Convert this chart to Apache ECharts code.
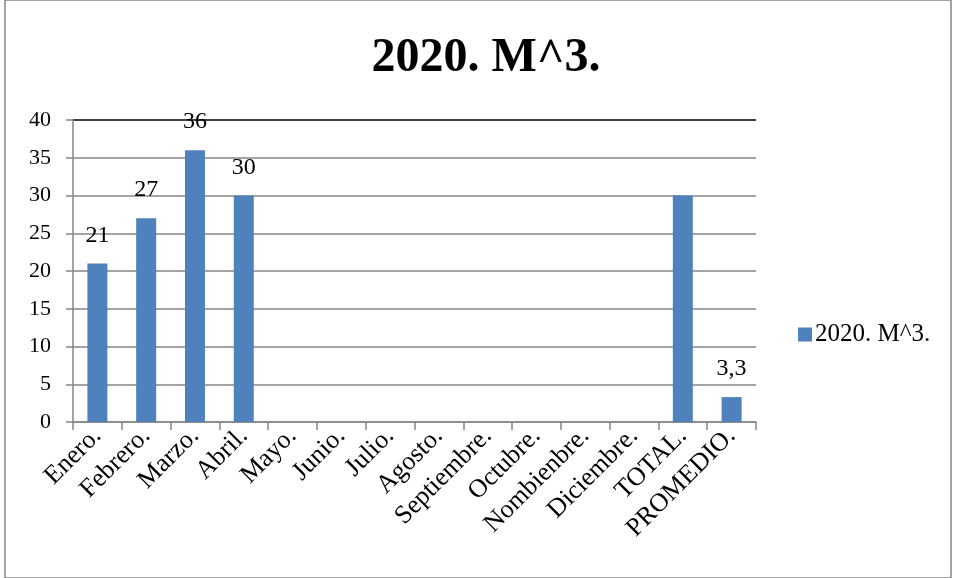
<!DOCTYPE html>
<html>
<head>
<meta charset="utf-8">
<script src="https://cdn.jsdelivr.net/npm/echarts@6/dist/echarts.min.js"></script>
<style>
  html, body { margin: 0; padding: 0; background: #fff; }
  #main { width: 956px; height: 578px; }
</style>
</head>
<body>
<div id="main"></div>
<script>
// datos del gráfico
const categorias = ['Enero.', 'Febrero.', 'Marzo.', 'Abril.', 'Mayo.', 'Junio.', 'Julio.', 'Agosto.',
  'Septiembre.', 'Octubre.', 'Nombienbre.', 'Diciembre.', 'TOTAL.', 'PROMEDIO.'];
const valores = [21, 27, 36, 30, null, null, null, null, null, null, null, null, 30, 3.3];
const etiquetas = ['21', '27', '36', '30', '', '', '', '', '', '', '', '', '', '3,3'];
const nombreSerie = '2020. M^3.';

const fuente = '"Liberation Serif", "Times New Roman", serif';
const gris = '#868686';

const chartDom = document.getElementById('main');
const myChart = echarts.init(chartDom);

const option = {
  animation: false,
  backgroundColor: '#fff',
  title: {
    text: nombreSerie,
    left: 481,
    top: 30,
    textAlign: 'center',
    textStyle: { fontFamily: fuente, fontSize: 48, fontWeight: 'bold', color: '#000' }
  },
  legend: {
    left: 793,
    top: 317,
    itemWidth: 14,
    itemHeight: 14,
    itemGap: 4,
    icon: 'rect',
    textStyle: { fontFamily: fuente, fontSize: 25, color: '#000', padding: [0, 0, 0, -2] },
    data: [nombreSerie]
  },
  grid: { left: 73, right: 200, top: 120, bottom: 156 },
  xAxis: {
    type: 'category',
    data: categorias,
    axisLine: { lineStyle: { color: gris, width: 1.5 } },
    axisTick: { show: true, length: 8, lineStyle: { color: gris, width: 1.5 } },
    axisLabel: {
      rotate: 45,
      interval: 0,
      margin: 10,
      fontFamily: fuente,
      fontSize: 26,
      color: '#000'
    }
  },
  yAxis: {
    type: 'value',
    min: 0,
    max: 40,
    interval: 5,
    axisLine: { show: true, lineStyle: { color: gris, width: 1.5 } },
    axisTick: { show: true, length: 7, lineStyle: { color: gris, width: 1.5 } },
    axisLabel: { fontFamily: fuente, fontSize: 22, color: '#000', margin: 22 },
    splitLine: {
      lineStyle: {
        color: [gris, gris, gris, gris, gris, gris, gris, gris, '#000'],
        width: 1.5
      }
    }
  },
  series: [{
    name: nombreSerie,
    type: 'bar',
    data: valores.map((v, i) => ({
      value: v,
      label: { show: etiquetas[i] !== '', formatter: etiquetas[i] }
    })),
    barWidth: 20,
    itemStyle: { color: '#4f81bd' },
    label: {
      position: 'top',
      distance: 16,
      fontFamily: fuente,
      fontSize: 24,
      color: '#000'
    }
  }],
  graphic: [{
    type: 'rect',
    shape: { x: 5, y: 0, width: 946, height: 578 },
    style: { fill: 'none', stroke: gris, lineWidth: 1.5 },
    silent: true
  }]
};

myChart.setOption(option);
</script>
</body>
</html>
